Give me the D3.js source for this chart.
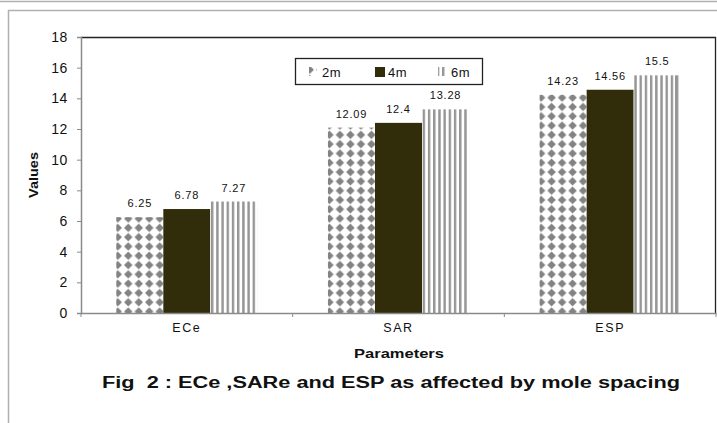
<!DOCTYPE html>
<html><head><meta charset="utf-8">
<script src="https://cdn.jsdelivr.net/npm/d3@7"></script>
<style>
html,body{margin:0;padding:0;background:#fff;}
svg{display:block;}
text{font-family:"Liberation Sans",Arial,sans-serif;}
</style></head>
<body>
<svg id="chart" width="717" height="423"></svg>
<script>
const categories = ["ECe", "SAR", "ESP"];
const seriesNames = ["2m", "4m", "6m"];
const values2m = [6.25, 12.09, 14.23];
const values4m = [6.78, 12.4, 14.56];
const values6m = [7.27, 13.28, 15.5];
const yTicks = [0, 2, 4, 6, 8, 10, 12, 14, 16, 18];
const yTitle = "Values";
const xTitle = "Parameters";
const caption = "Fig  2 : ECe ,SARe and ESP as affected by mole spacing";

const svg = d3.select("#chart");
const W = 717, H = 423;
const m = {left: 81, right: 716, top: 37, bottom: 313};

// outer frame
svg.append("line").attr("x1",0).attr("x2",W).attr("y1",1.5).attr("y2",1.5).attr("stroke","#b0b0b0").attr("stroke-width",1.5);
svg.append("line").attr("x1",8).attr("x2",W).attr("y1",10.5).attr("y2",10.5).attr("stroke","#b0b0b0").attr("stroke-width",1.5);
svg.append("line").attr("x1",8.5).attr("x2",8.5).attr("y1",10).attr("y2",H).attr("stroke","#b0b0b0").attr("stroke-width",1.5);

const defs = svg.append("defs");
// diamond pattern
const pd = defs.append("pattern").attr("id","pDiamond").attr("patternUnits","userSpaceOnUse")
  .attr("width",10.5).attr("height",9.3).attr("x",0).attr("y",0);
pd.append("rect").attr("width",10.5).attr("height",9.3).attr("fill","#fff");
pd.append("path").attr("d","M5.25,0.5 L9.5,4.65 L5.25,8.8 L1.0,4.65 Z").attr("fill","#838383");
// stripe pattern
const ps = defs.append("pattern").attr("id","pStripe").attr("patternUnits","userSpaceOnUse")
  .attr("width",5.2).attr("height",10);
ps.append("rect").attr("width",5.2).attr("height",10).attr("fill","#fff");
ps.append("rect").attr("x",0).attr("width",2.4).attr("height",10).attr("fill","#959595");

const fills = {"2m":"url(#pDiamond)", "4m":"#312d0b", "6m":"url(#pStripe)"};

const x0 = d3.scaleBand().domain(categories).range([m.left, m.right]).padding(0);
const bw = x0.bandwidth();
const gap = bw * 0.75 / 4.5;
const x1 = d3.scaleBand().domain(seriesNames).range([gap, bw - gap]).padding(0);
const y = d3.scaleLinear().domain([0, 18]).range([m.bottom, m.top]);

const seriesData = [values2m, values4m, values6m];

// bars
const groups = svg.append("g").selectAll("g").data(categories).join("g")
  .attr("transform", d => `translate(${x0(d)},0)`);
groups.each(function(cat, ci){
  const g = d3.select(this);
  seriesNames.forEach((s, si) => {
    const v = seriesData[si][ci];
    g.append("rect").attr("x", x1(s)).attr("y", y(v))
      .attr("width", x1.bandwidth()).attr("height", y(0) - y(v))
      .attr("fill", fills[s]);
    g.append("text").attr("x", x1(s) + x1.bandwidth()/2).attr("y", y(v) - 10)
      .attr("text-anchor","middle").attr("font-size","11px").attr("letter-spacing","0.8px")
      .attr("fill","#111").text(v);
  });
});

// plot border top/right
svg.append("line").attr("x1",m.left).attr("x2",m.right).attr("y1",m.top+0.5).attr("y2",m.top+0.5).attr("stroke","#222").attr("stroke-width",1.3);
svg.append("line").attr("x1",m.right-0.5).attr("x2",m.right-0.5).attr("y1",m.top).attr("y2",m.bottom).attr("stroke","#222").attr("stroke-width",1.3);

// y axis
const yAxis = svg.append("g").attr("transform",`translate(${m.left},0)`)
  .call(d3.axisLeft(y).tickValues(yTicks).tickSize(4).tickPadding(9));
yAxis.select(".domain").attr("stroke","#8a8a8a").attr("stroke-width",1.5);
yAxis.selectAll(".tick line").attr("stroke","#8a8a8a");
yAxis.selectAll(".tick text").attr("font-size","14px").attr("fill","#111").attr("font-family","'Liberation Sans',Arial,sans-serif").attr("letter-spacing","0.6px");

// x axis
const xAxis = svg.append("g").attr("transform",`translate(0,${m.bottom})`)
  .call(d3.axisBottom(x0).tickSize(0).tickPadding(10));
xAxis.select(".domain").attr("stroke","#8a8a8a").attr("stroke-width",1.5);
xAxis.selectAll(".tick text").attr("font-size","12.5px").attr("fill","#111").attr("font-family","'Liberation Sans',Arial,sans-serif").attr("letter-spacing","1.6px");
// category boundary ticks
svg.append("g").selectAll("line").data(categories).join("line")
  .attr("x1", d => x0(d) + bw).attr("x2", d => x0(d) + bw)
  .attr("y1", m.bottom).attr("y2", m.bottom + 4).attr("stroke","#8a8a8a");
svg.append("line").attr("x1",m.left).attr("x2",m.left).attr("y1",m.bottom).attr("y2",m.bottom+4).attr("stroke","#8a8a8a");

// axis titles
svg.append("text").attr("transform",`translate(38,${(m.top+m.bottom)/2}) rotate(-90)`)
  .attr("text-anchor","middle").attr("font-size","12px").attr("font-weight","bold")
  .attr("font-family","'DejaVu Sans',sans-serif").attr("textLength",46).attr("lengthAdjust","spacingAndGlyphs")
  .attr("fill","#111").text(yTitle);
svg.append("text").attr("x",399).attr("y",358)
  .attr("text-anchor","middle").attr("font-size","12px").attr("font-weight","bold")
  .attr("font-family","'DejaVu Sans',sans-serif").attr("textLength",90).attr("lengthAdjust","spacingAndGlyphs")
  .attr("fill","#111").text(xTitle);
svg.append("text").attr("x",391).attr("y",388)
  .attr("text-anchor","middle").attr("font-size","16px").attr("font-weight","bold")
  .attr("font-family","'DejaVu Sans',sans-serif").attr("textLength",578).attr("lengthAdjust","spacingAndGlyphs")
  .attr("fill","#111")
  .attr("xml:space","preserve").style("white-space","pre").text(caption);

// legend
const lg = svg.append("g");
lg.append("rect").attr("x",295.5).attr("y",58.5).attr("width",187).attr("height",26)
  .attr("fill","#fff").attr("stroke","#222").attr("stroke-width",1.3);
const legendX = {"2m":309, "4m":375, "6m":438};
seriesNames.forEach(s => {
  const kx = legendX[s];
  lg.append("rect").attr("x",kx).attr("y",67).attr("width", s==="4m"?10:8).attr("height", s==="4m"?10:9)
    .attr("fill", fills[s]);
  lg.append("text").attr("x",kx + 13).attr("y",77).attr("font-size","13px").attr("letter-spacing","0.6px")
    .attr("fill","#111").text(s);
});
</script>
</body></html>
